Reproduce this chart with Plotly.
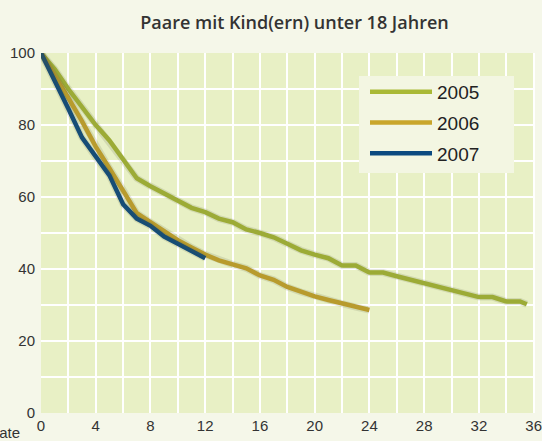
import plotly.graph_objects as go

# Months since start
months_2005 = [0, 1, 2, 3, 4, 5, 6, 7, 8, 9, 10, 11, 12, 13, 14, 15, 16, 17, 18, 19, 20,
               21, 22, 23, 24, 25, 26, 27, 28, 29, 30, 31, 32, 33, 34, 35, 35.5]
share_2005 = [100, 95.5, 90, 85, 80, 75.7, 70.6, 65.2, 63, 61, 59, 57, 55.8, 54, 53, 51,
              50, 48.8, 47, 45.2, 44, 43, 41, 41, 39, 39, 38, 37, 36, 35, 34, 33.1, 32.2,
              32.2, 31, 31, 30.2]
months_2006 = list(range(0, 25))
share_2006 = [100, 94, 87.5, 81, 74, 68, 62, 55.5, 53, 50.5, 48, 46, 44, 42.4, 41.3, 40.2,
              38.2, 37, 35, 33.6, 32.4, 31.4, 30.4, 29.4, 28.6]
months_2007 = list(range(0, 13))
share_2007 = [100, 92.5, 84.5, 76.5, 71, 66, 58, 54, 52, 49, 47, 45, 43]

series = [
    ("2005", months_2005, share_2005, "#A9B935"),
    ("2006", months_2006, share_2006, "#C9A62B"),
    ("2007", months_2007, share_2007, "#0B4A80"),
]

title = "Paare mit Kind(ern) unter 18 Jahren"
x_ticks = [0, 4, 8, 12, 16, 20, 24, 28, 32, 36]
y_ticks = [0, 20, 40, 60, 80, 100]

W, H = 542, 441
PAPER = "#F5F7E9"
# main plot box in pixels: left 41, right 535, top 53, bottom 413
SX, SY = 3, 4  # shadow offset (px)
L, R, T, B = 41, 542 - 535 - SX, 53, 441 - 413 - SY
PW, PH = W - L - R, H - T - B
dx, dy = SX / PW, SY / PH


def px_x(p):
    return (p - L) / PW


def px_y(p):
    return (H - B - p) / PH


fig = go.Figure()
# soft drop shadows on an identical, slightly shifted axis pair
for name, xs, ys, col in series:
    fig.add_trace(go.Scatter(x=xs, y=ys, mode="lines", xaxis="x2", yaxis="y2",
                             line=dict(color="rgba(90,95,60,0.15)", width=7),
                             showlegend=False, hoverinfo="skip"))
for name, xs, ys, col in series:
    fig.add_trace(go.Scatter(x=xs, y=ys, mode="lines", name=name, legendgroup=name,
                             line=dict(color=col, width=4.5)))

axis_common = dict(showline=False, zeroline=False, automargin=False)
fig.update_layout(
    width=W, height=H,
    margin=dict(l=L, r=R, t=T, b=B, autoexpand=False),
    paper_bgcolor=PAPER,
    plot_bgcolor="#E8F0C5",
    title=dict(text=title, x=(L + 535) / 2 / W + 0.012, xanchor="center", y=1 - 23 / H,
               yanchor="middle", automargin=False,
               font=dict(family="Open Sans", size=18, color="#333333", weight=600)),
    font=dict(family="Liberation Sans, Arial", color="#333333", size=15),
    xaxis=dict(range=[0, 36.1], domain=[0, 1 - dx], tickvals=x_ticks, showgrid=True,
               gridcolor="white", gridwidth=2, ticks="", ticklabelstandoff=2,
               minor=dict(dtick=2, tick0=0, showgrid=True, gridcolor="white", gridwidth=2),
               anchor="y", **axis_common),
    yaxis=dict(range=[0, 100], domain=[dy, 1], tickvals=y_ticks, showgrid=True,
               gridcolor="white", gridwidth=2, ticks="", ticklabelstandoff=5,
               minor=dict(dtick=10, tick0=0, showgrid=True, gridcolor="white", gridwidth=2),
               anchor="x", **axis_common),
    xaxis2=dict(range=[0, 36.1], domain=[dx, 1], overlaying="x", visible=False,
                anchor="y2"),
    yaxis2=dict(range=[0, 100], domain=[0, 1 - dy], overlaying="y", visible=False,
                anchor="x2"),
    legend=dict(x=px_x(365), y=px_y(73),
                xanchor="left", yanchor="top", bgcolor="rgba(0,0,0,0)",
                font=dict(size=19, family="Liberation Sans, Arial", color="#222222"),
                itemwidth=62, tracegroupgap=3, traceorder="grouped"),
    showlegend=True,
)
# legend panel
fig.add_shape(type="rect", xref="paper", yref="paper",
              x0=px_x(359), x1=px_x(514), y0=px_y(173), y1=px_y(76),
              fillcolor="#F3F6E2", line=dict(width=0), layer="above")
fig.add_annotation(text="Monate", xref="paper", yref="paper",
                   x=px_x(22), y=px_y(432),
                   xanchor="right", yanchor="middle", showarrow=False,
                   font=dict(size=15, color="#333333"))

fig.write_html(
    "out.html",
    config={"displayModeBar": False},
    post_script="document.body.style.margin='0';document.body.style.background='%s';" % PAPER,
)
